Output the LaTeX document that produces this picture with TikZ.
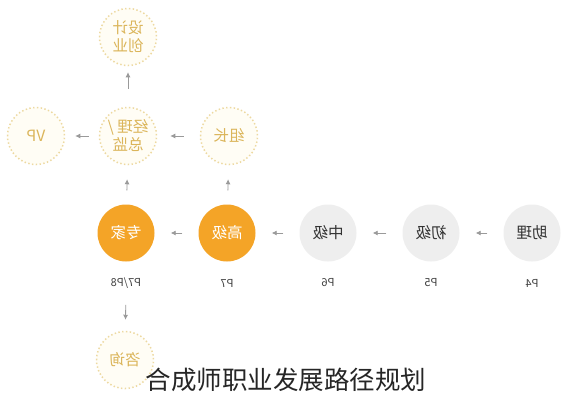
\documentclass[tikz,border=0pt]{standalone}
\usepackage{fontspec}
\setmainfont{Noto Sans CJK SC}
\usetikzlibrary{arrows.meta}
\definecolor{orng}{HTML}{F4A427}
\definecolor{greyc}{HTML}{EEEEEE}
\definecolor{goldline}{HTML}{EDD9A0}
\definecolor{goldfill}{HTML}{FFFDF5}
\definecolor{goldtext}{HTML}{DBB55A}
\definecolor{arrc}{HTML}{9A9A9A}
\tikzset{
  mir/.style={xscale=-1},
  base/.style={circle,minimum size=57pt,inner sep=0pt,align=center,font=\fontsize{15.5}{18}\selectfont,mir},
  greyn/.style={base,fill=greyc,text=black!80},
  orangen/.style={base,fill=orng,text=white},
  dashn/.style={base,draw=goldline,fill=goldfill,text=goldtext,line width=1.5pt,dash pattern=on 1.4pt off 2.4pt},
  lvl/.style={font=\fontsize{11}{13}\selectfont,text=black!75,mir},
  arr/.style={draw=arrc,line width=0.8pt,-{Latex[length=5pt,width=5pt]}},
}
\begin{document}
\begin{tikzpicture}[x=1pt,y=-1pt]
\useasboundingbox[fill=white] (0,0) rectangle (569,400);
% main row
\node[greyn] (zl) at (532,233) {助理};
\node[greyn] (cj) at (431,233) {初级};
\node[greyn] (zj) at (328,233) {中级};
\node[orangen] (gj) at (227,233) {高级};
\node[orangen] (expert) at (126,233) {专家};
% upper row
\node[dashn] (jl) at (128,136) {经理 /\\总监};
\node[dashn] (vp) at (36,136) {VP};
\node[dashn] (zz) at (229,136) {组长};
\node[dashn] (sj) at (128,37) {设计\\创业};
\node[dashn] (zx) at (125,360) {咨询};
% levels
\node[lvl] (p4) at (532,283) {P4};
\node[lvl] (p5) at (431,283) {P5};
\node[lvl] (p6) at (328,283) {P6};
\node[lvl] (p7) at (227,283) {P7};
\node[lvl] (p78) at (126,283) {P7/P8};
% arrows
\draw[arr,shorten <=16pt,shorten >=16pt] (zl) -- (cj);
\draw[arr,shorten <=16pt,shorten >=16pt] (cj) -- (zj);
\draw[arr,shorten <=16pt,shorten >=16pt] (zj) -- (gj);
\draw[arr,shorten <=16pt,shorten >=16pt] (gj) -- (expert);
\draw[arr,shorten <=14pt,shorten >=14pt] (expert) -- (jl);
\draw[arr,shorten <=14pt,shorten >=14pt] (gj) -- (zz);
\draw[arr,shorten <=16pt,shorten >=13pt] (zz) -- (jl);
\draw[arr,shorten <=10pt,shorten >=10pt] (jl) -- (vp);
\draw[arr,shorten <=18pt,shorten >=6pt] (jl) -- (sj);
\draw[arr,shorten <=13pt,shorten >=11pt] (p78) -- (zx);
% title
\node[font=\fontsize{25.5}{30}\selectfont,text=black!85] (title) at (286,380) {合成师职业发展路径规划};
\end{tikzpicture}
\end{document}
